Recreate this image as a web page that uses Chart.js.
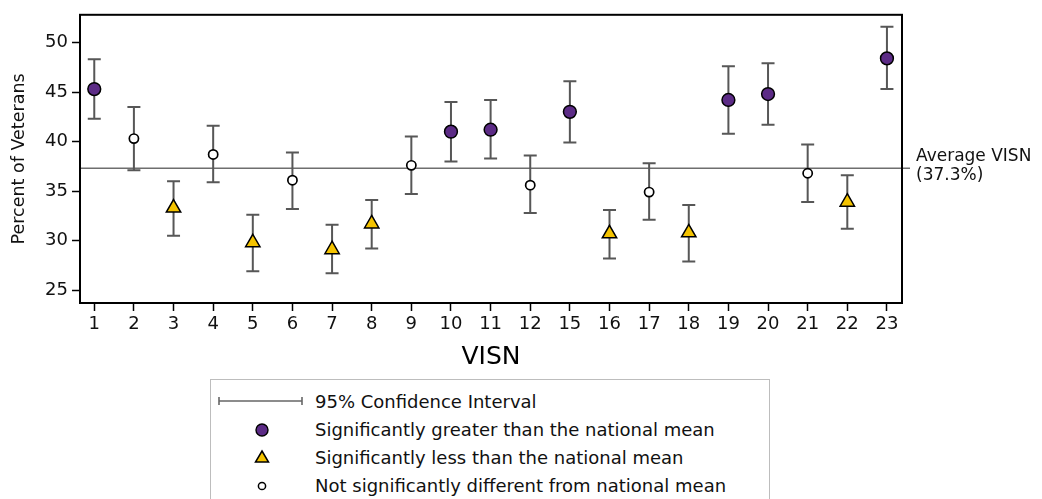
<!DOCTYPE html>
<html>
<head>
<meta charset="utf-8">
<script src="https://cdn.jsdelivr.net/npm/chart.js@4.4.1/dist/chart.umd.min.js"></script>
<style>
  html, body { margin: 0; padding: 0; background: #fff; }
  #wrap { position: relative; width: 1042px; height: 499px; overflow: hidden; font-family: "DejaVu Sans", sans-serif; }
  #c { position: absolute; left: 0; top: 0; }
  #legend { position: absolute; left: 210px; top: 379px; width: 560px; height: 140px; border: 1.5px solid #bdbdbd; box-sizing: border-box; background: #fff; }
  .row { position: absolute; left: 0; height: 28px; width: 100%; }
  .row span { position: absolute; left: 104px; top: 0; line-height: 28px; font-size: 18px; color: #111; white-space: nowrap; }
  .row svg { position: absolute; left: 0; top: 0; }
</style>
</head>
<body>
<div id="wrap">
  <canvas id="c" width="1042" height="499"></canvas>
  <div id="legend">
    <div class="row" style="top:8px">
      <svg width="100" height="28"><g stroke="#666" stroke-width="1.6" fill="none"><line x1="8" y1="13" x2="91" y2="13"/><line x1="8" y1="9" x2="8" y2="17"/><line x1="91" y1="9" x2="91" y2="17"/></g></svg>
      <span>95% Confidence Interval</span>
    </div>
    <div class="row" style="top:36px">
      <svg width="100" height="28"><circle cx="51" cy="14" r="6" fill="#5c2b86" stroke="#000" stroke-width="1.4"/></svg>
      <span>Significantly greater than the national mean</span>
    </div>
    <div class="row" style="top:64px">
      <svg width="100" height="28"><polygon points="51,7 57.5,18 44.5,18" fill="#f4c300" stroke="#000" stroke-width="1.5" stroke-linejoin="miter"/></svg>
      <span>Significantly less than the national mean</span>
    </div>
    <div class="row" style="top:92px">
      <svg width="100" height="28"><circle cx="51" cy="14" r="3.6" fill="#fff" stroke="#000" stroke-width="1.5"/></svg>
      <span>Not significantly different from national mean</span>
    </div>
  </div>
</div>
<script>
// ---- data ----
const visn = ['1','2','3','4','5','6','7','8','9','10','11','12','15','16','17','18','19','20','21','22','23'];
const pct = [45.3, 40.3, 33.3, 38.7, 29.8, 36.1, 29.1, 31.7, 37.6, 41.0, 41.2, 35.6, 43.0, 30.7, 34.9, 30.8, 44.2, 44.8, 36.8, 33.9, 48.4];
const ciLow = [42.3, 37.1, 30.5, 35.9, 26.9, 33.2, 26.7, 29.2, 34.7, 38.0, 38.3, 32.8, 39.9, 28.2, 32.1, 27.9, 40.8, 41.7, 33.9, 31.2, 45.3];
const ciHigh = [48.3, 43.5, 36.0, 41.6, 32.6, 38.9, 31.6, 34.1, 40.5, 44.0, 44.2, 38.6, 46.1, 33.1, 37.8, 33.6, 47.6, 47.9, 39.7, 36.6, 51.6];
const significance = ['greater','none','less','none','less','none','less','less','none','greater','greater','none','greater','less','none','less','greater','greater','none','less','greater'];
const yTicks = [25, 30, 35, 40, 45, 50];
const averageVisn = 37.3;
const averageLabel = ['Average VISN', '(37.3%)'];

const PURPLE = '#5c2b86', GOLD = '#f4c300';

function pointsFor(kind) {
  const out = [];
  pct.forEach((v, i) => { if (significance[i] === kind) out.push({ x: i, y: v }); });
  return out;
}

const errorBars = {
  id: 'errorBars',
  beforeDatasetsDraw(chart) {
    const { ctx, chartArea, scales: { x, y } } = chart;
    ctx.save();
    // average line
    const ya = y.getPixelForValue(averageVisn);
    ctx.strokeStyle = '#6e6e6e';
    ctx.lineWidth = 1.5;
    ctx.beginPath();
    ctx.moveTo(chartArea.left, ya);
    ctx.lineTo(chartArea.right + 8, ya);
    ctx.stroke();
    ctx.fillStyle = '#111';
    ctx.font = '17px "DejaVu Sans"';
    ctx.textBaseline = 'middle';
    ctx.textAlign = 'left';
    ctx.fillText(averageLabel[0], chartArea.right + 14, ya - 12);
    ctx.fillText(averageLabel[1], chartArea.right + 14, ya + 7);
    // error bars
    ctx.strokeStyle = '#575757';
    ctx.lineWidth = 2;
    visn.forEach((_, i) => {
      const px = x.getPixelForValue(i);
      const y1 = y.getPixelForValue(ciLow[i]);
      const y2 = y.getPixelForValue(ciHigh[i]);
      ctx.beginPath();
      ctx.moveTo(px, y1); ctx.lineTo(px, y2);
      ctx.moveTo(px - 6.5, y1); ctx.lineTo(px + 6.5, y1);
      ctx.moveTo(px - 6.5, y2); ctx.lineTo(px + 6.5, y2);
      ctx.stroke();
    });
    ctx.restore();
  },
  afterDraw(chart) {
    const { ctx, chartArea } = chart;
    ctx.save();
    ctx.strokeStyle = '#000';
    ctx.lineWidth = 2;
    ctx.strokeRect(chartArea.left, chartArea.top, chartArea.right - chartArea.left, chartArea.bottom - chartArea.top);
    ctx.restore();
  }
};

Chart.defaults.font.family = '"DejaVu Sans", sans-serif';
Chart.defaults.color = '#111';

new Chart(document.getElementById('c'), {
  type: 'scatter',
  data: {
    datasets: [
      { label: 'greater', data: pointsFor('greater'), pointStyle: 'circle', pointRadius: 6.4, pointHoverRadius: 6.4,
        backgroundColor: PURPLE, borderColor: '#000', borderWidth: 1.5 },
      { label: 'less', data: pointsFor('less'), pointStyle: 'triangle', pointRadius: 8.3, pointHoverRadius: 8.3,
        backgroundColor: GOLD, borderColor: '#000', borderWidth: 1.5 },
      { label: 'none', data: pointsFor('none'), pointStyle: 'circle', pointRadius: 4.6, pointHoverRadius: 4.6,
        backgroundColor: '#fff', borderColor: '#000', borderWidth: 1.7 }
    ]
  },
  options: {
    responsive: false,
    animation: false,
    events: [],
    layout: { padding: { left: 0, right: 140, top: 12, bottom: 115 } },
    plugins: { legend: { display: false }, tooltip: { enabled: false } },
    scales: {
      x: {
        type: 'linear',
        min: -0.36,
        max: 20.38,
        afterBuildTicks(scale) { scale.ticks = visn.map((_, i) => ({ value: i })); },
        afterFit(scale) { scale.height = 81; },
        ticks: { callback: (v) => visn[v], font: { size: 18 }, padding: 3, maxRotation: 0, autoSkip: false, color: '#111' },
        grid: { drawOnChartArea: false, tickLength: 8, color: '#000', tickWidth: 1.5 },
        border: { display: true, color: '#000', width: 2 },
        title: { display: true, text: 'VISN', font: { size: 25 }, padding: { top: 0, bottom: 12 }, color: '#000' }
      },
      y: {
        type: 'linear',
        min: 23.7,
        max: 52.8,
        afterBuildTicks(scale) { scale.ticks = yTicks.map(v => ({ value: v })); },
        afterFit(scale) { scale.width = 80; },
        ticks: { font: { size: 18 }, padding: 4, color: '#111' },
        grid: { drawOnChartArea: false, tickLength: 8, color: '#000', tickWidth: 1.5 },
        border: { display: true, color: '#000', width: 2 },
        title: { display: true, text: 'Percent of Veterans', font: { size: 17.5 }, padding: { top: 9, bottom: 0 }, color: '#111' }
      }
    }
  },
  plugins: [errorBars]
});
</script>
</body>
</html>
